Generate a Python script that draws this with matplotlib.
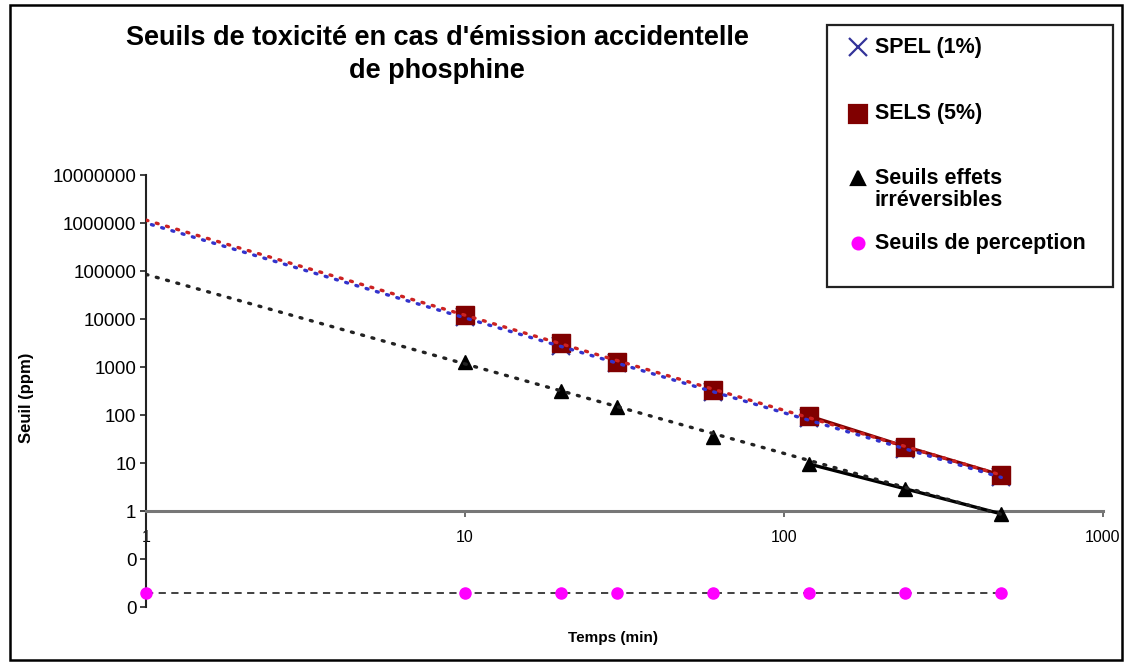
import matplotlib
matplotlib.use("Agg")
import matplotlib.pyplot as plt
from matplotlib.lines import Line2D
from matplotlib.patches import Rectangle
from matplotlib.ticker import FixedLocator, FuncFormatter, NullLocator

plt.rcParams['font.family'] = ['Liberation Sans', 'DejaVu Sans']

# data
temps = [10, 20, 30, 60, 120, 240, 480]
spel = [11000, 2800, 1200, 300, 85, 20, 5.1]
sels = [12100, 3100, 1300, 330, 95, 22, 5.6]
irreversibles = [1270, 310, 150, 35, 9.5, 2.9, 0.87]

perception_temps = [1, 10, 20, 30, 60, 120, 240, 480]
perception = [0.02, 0.02, 0.02, 0.02, 0.02, 0.02, 0.02, 0.02]

# power trend lines (Excel style, extended back to 1 min)
trend_temps = [1, 480]
spel_trend = [1.0e6, 5.0]
sels_trend = [1.15e6, 5.6]
irrev_trend = [8.5e4, 0.85]

y_ticks = [0.01, 0.1, 1, 10, 100, 1000, 10000, 100000, 1000000, 10000000]
x_ticks = [1, 10, 100, 1000]

W, H = 1129, 664
fig = plt.figure(figsize=(W / 100, H / 100), dpi=100)
ax = fig.add_axes([146 / W, 1 - 607 / H, (1103 - 146) / W, (607 - 175) / H])

ax.set_xscale('log')
ax.set_yscale('log')
ax.set_xlim(1, 1000)
ax.set_ylim(0.01, 1e7)

navy = '#333399'
darkred = '#800000'
pink = '#FF00FF'

# solid series segments
ax.plot(temps[4:], sels[4:], color=darkred, lw=2.4, zorder=3)
ax.plot(temps[4:], irreversibles[4:], color='black', lw=2.4, zorder=3)

# markers
ax.plot(temps, spel, ls='none', marker='x', ms=13, mew=1.6, color=navy, zorder=4)
ax.plot(temps, sels, ls='none', marker='s', ms=13, color=darkred, zorder=5)
ax.plot(temps, irreversibles, ls='none', marker='^', ms=10.5, color='black', zorder=5)

# trend lines
dots = (0, (0.6, 2.6))
ax.plot(trend_temps, sels_trend, color='#cc2222', lw=2.4, ls=dots,
        dash_capstyle='round', zorder=6)
ax.plot(trend_temps, spel_trend, color='#3333cc', lw=2.4, ls=(1.5, (0.6, 2.6)),
        dash_capstyle='round', zorder=6)
ax.plot(trend_temps, irrev_trend, color='#222222', lw=2.4, ls=dots,
        dash_capstyle='round', zorder=6)

# perception thresholds
ax.plot(perception_temps, perception, color='#333333', lw=1.3, ls=(0, (4, 3)),
        marker='o', ms=8, mfc=pink, mec=pink, zorder=5, clip_on=False)

# axes styling
for side in ('top', 'right'):
    ax.spines[side].set_visible(False)
ax.spines['bottom'].set_position(('data', 1))
ax.spines['bottom'].set_color('#777777')
ax.spines['bottom'].set_linewidth(2.2)
ax.spines['left'].set_color('#222222')
ax.spines['left'].set_linewidth(1.5)

ax.yaxis.set_major_locator(FixedLocator(y_ticks))
ax.yaxis.set_minor_locator(NullLocator())
ax.yaxis.set_major_formatter(FuncFormatter(lambda v, p: f"{v:.0f}"))
ax.xaxis.set_major_locator(FixedLocator(x_ticks))
ax.xaxis.set_minor_locator(NullLocator())
ax.xaxis.set_major_formatter(FuncFormatter(lambda v, p: f"{v:.0f}"))

ax.tick_params(axis='y', direction='out', length=4, width=1.2, pad=3,
               labelsize=13.5, color='#222222')
ax.tick_params(axis='x', direction='out', length=4, width=1.2, pad=10,
               labelsize=11.5, color='#555555')

fig.text(26 / W, 1 - 398 / H, 'Seuil (ppm)', rotation=90, ha='center',
         va='center', fontsize=12, fontweight='bold')
fig.text(613 / W, 1 - 638 / H, 'Temps (min)', ha='center', va='center',
         fontsize=11, fontweight='bold')

# title, two centred lines
fig.text(437 / W, 1 - 38 / H, "Seuils de toxicité en cas d'émission accidentelle",
         ha='center', va='center', fontsize=19.5, fontweight='bold')
fig.text(437 / W, 1 - 71 / H, "de phosphine",
         ha='center', va='center', fontsize=19.5, fontweight='bold')

# legend, laid out like the Excel one
fig.add_artist(Rectangle((827 / W, 1 - 287 / H), (1113 - 827) / W,
                         (287 - 25) / H, transform=fig.transFigure,
                         fill=False, ec='#222222', lw=1.6))
legend_items = [
    (47, 'x', navy, 13, ['SPEL (1%)']),
    (114, 's', darkred, 13, ['SELS (5%)']),
    (178, '^', 'black', 10.5, ['Seuils effets', 'irréversibles']),
    (243, 'o', pink, 8.5, ['Seuils de perception']),
]
for py, mk, col, ms, lines in legend_items:
    fig.add_artist(Line2D([858 / W], [1 - py / H], transform=fig.transFigure,
                          marker=mk, color=col, ms=ms, mew=1.6, ls='none'))
    for i, line in enumerate(lines):
        fig.text(875 / W, 1 - (py + 23 * i) / H, line, ha='left', va='center',
                 fontsize=15.5, fontweight='bold')

# outer chart border
fig.add_artist(Rectangle((10 / W, 1 - 660 / H), (1122 - 10) / W, (660 - 5) / H,
                         transform=fig.transFigure, fill=False, ec='black', lw=1.8))

fig.savefig('out.png', dpi=100)
